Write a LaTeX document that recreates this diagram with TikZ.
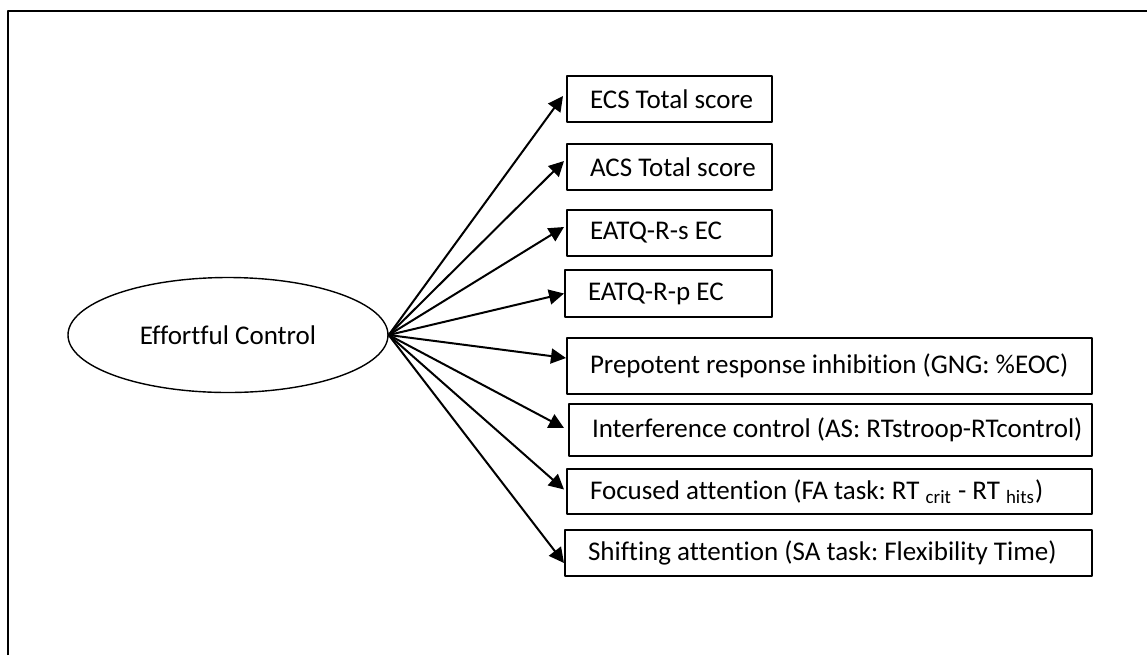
\documentclass[tikz,border=0pt]{standalone}
\usepackage{fontspec}
\setmainfont{Carlito}[Ligatures=NoCommon]
\usetikzlibrary{arrows.meta,shapes.geometric}
\frenchspacing
\tikzset{
  latent/.style={draw,ellipse,line width=0.7pt,minimum width=160pt,minimum height=57.5pt,inner sep=0pt},
  measure/.style={draw,line width=1pt,anchor=north west,inner xsep=0pt,inner ysep=0pt,align=flush left,
    execute at begin node=\hspace*{11.5pt}},
  load/.style={line width=1pt,-{Triangle[length=7.5pt,width=7.5pt]}}
}
\begin{document}
\begin{tikzpicture}[x=0.5pt,y=-0.5pt,line cap=round,line join=round]
  \useasboundingbox (0,0) rectangle (1147,655);
  \fontsize{13.5}{16}\selectfont
  % frame
  \draw[line width=1pt,line cap=butt] (8,655) -- (8,11) -- (1147,11);
  % latent variable
  \node[latent] (ec) at (228,335) {Effortful Control};
  % indicators
  \node[measure,text width=102.5pt,minimum height=23pt] (ecs) at (566,75) {ECS Total score};
  \node[measure,text width=102.5pt,minimum height=23pt] (acs) at (566,143) {ACS Total score};
  \node[measure,text width=102.5pt,minimum height=23pt] (eatqs) at (566,209) {EATQ-R-s EC};
  \node[measure,text width=103.5pt,minimum height=23.5pt] (eatqp) at (564,269) {EATQ-R-p EC};
  \node[measure,text width=262.5pt,minimum height=28pt] (gng) at (566,337) {Prepotent response inhibition (GNG: \%EOC)};
  \node[measure,text width=261.5pt,minimum height=26pt] (as) at (568,403) {Interference control (AS: RTstroop-RTcontrol)};
  \node[measure,text width=262.5pt,minimum height=22.5pt] (fa) at (566,468) {Focused attention (FA task: RT \textsubscript{crit} - RT \textsubscript{hits})};
  \node[measure,text width=263.5pt,minimum height=23pt] (sa) at (564,529) {Shifting attention (SA task: Flexibility Time)};
  % loadings
  \draw[load] (ec.east) -- ([xshift=-1.5pt,yshift=1.5pt]ecs.west);
  \draw[load] (ec.east) -- ([xshift=-1pt,yshift=3pt]acs.west);
  \draw[load] (ec.east) -- ([xshift=-1pt,yshift=3pt]eatqs.west);
  \draw[load] (ec.east) -- (eatqp.west);
  \draw[load] (ec.east) -- ([yshift=4pt]gng.west);
  \draw[load] (ec.east) -- ([xshift=-2pt,yshift=1pt]as.west);
  \draw[load] (ec.east) -- ([xshift=-1pt,yshift=1pt]fa.west);
  \draw[load] (ec.east) -- ([yshift=-5pt]sa.west);
\end{tikzpicture}
\end{document}
